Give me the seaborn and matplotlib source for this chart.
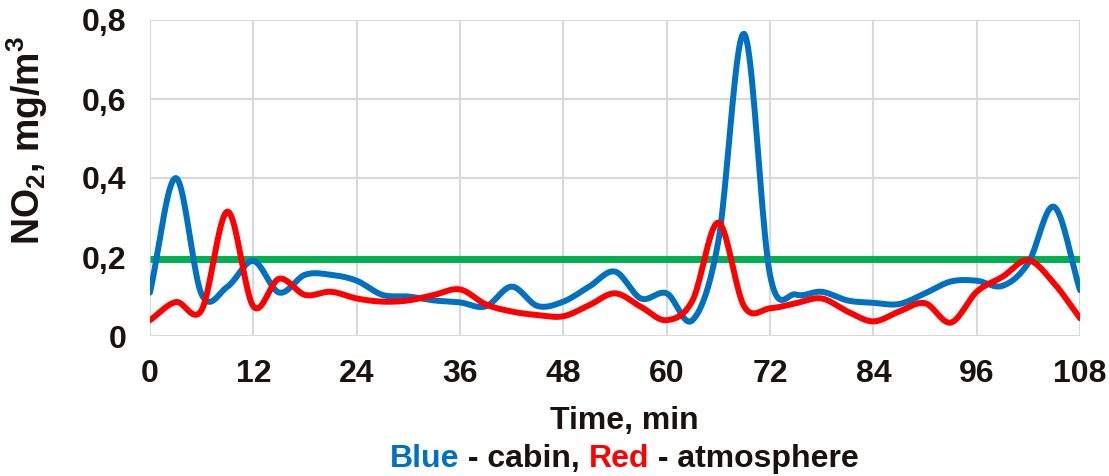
import numpy as np
import pandas as pd
import seaborn as sns
import matplotlib
matplotlib.use("Agg")
import matplotlib.pyplot as plt

# data, read every 3 minutes
time_min = list(range(0, 109, 3))
cabin = [0.11, 0.40, 0.105, 0.125, 0.19, 0.11, 0.155, 0.155, 0.14, 0.104,
         0.10, 0.09, 0.085, 0.075, 0.125, 0.076, 0.087, 0.125, 0.163, 0.095,
         0.108, 0.04, 0.24, 0.765, 0.155, 0.105, 0.112, 0.09, 0.084, 0.081,
         0.108, 0.138, 0.14, 0.127, 0.185, 0.327, 0.116]
atmosphere = [0.04, 0.086, 0.066, 0.315, 0.075, 0.145, 0.104, 0.112, 0.095, 0.087,
              0.09, 0.104, 0.118, 0.08, 0.062, 0.053, 0.05, 0.078, 0.108, 0.074,
              0.04, 0.09, 0.287, 0.075, 0.07, 0.083, 0.095, 0.062, 0.037, 0.062,
              0.083, 0.034, 0.112, 0.15, 0.192, 0.133, 0.045]
limit = 0.195
x_ticks = [0, 12, 24, 36, 48, 60, 72, 84, 96, 108]
y_ticks = [0, 0.2, 0.4, 0.6, 0.8]
y_tick_labels = ["0", "0,2", "0,4", "0,6", "0,8"]

BLUE = "#0070C0"
RED = "#FF0000"
GREEN = "#00B050"
INK = "#1a1111"


def smooth(x, y, n=20):
    # excel-like smoothed line (bezier through the points)
    x = np.asarray(x, float)
    y = np.asarray(y, float)
    px = np.concatenate([[2 * x[0] - x[1]], x, [2 * x[-1] - x[-2]]])
    py = np.concatenate([[2 * y[0] - y[1]], y, [2 * y[-1] - y[-2]]])
    t = np.linspace(0, 1, n, endpoint=False)[:, None]
    xs, ys = [], []
    for i in range(1, len(px) - 2):
        for p, out in ((px, xs), (py, ys)):
            p0, p1, p2, p3 = p[i - 1], p[i], p[i + 1], p[i + 2]
            c1 = p1 + (p2 - p0) / 6
            c2 = p2 - (p3 - p1) / 6
            b = ((1 - t) ** 3 * p1 + 3 * (1 - t) ** 2 * t * c1
                 + 3 * (1 - t) * t ** 2 * c2 + t ** 3 * p2)
            out.append(b.ravel())
    xs.append([x[-1]])
    ys.append([y[-1]])
    return np.concatenate(xs), np.concatenate(ys)


sns.set_theme(style="whitegrid")
plt.rcParams["font.family"] = ["Liberation Sans", "DejaVu Sans"]
plt.rcParams["font.weight"] = "bold"
plt.rcParams["mathtext.fontset"] = "custom"
plt.rcParams["mathtext.rm"] = "Liberation Sans:bold"
plt.rcParams["mathtext.bf"] = "Liberation Sans:bold"
plt.rcParams["mathtext.default"] = "rm"

fig = plt.figure(figsize=(11.09, 4.76), dpi=100)
ax = fig.add_axes([150 / 1109, 1 - 336 / 476, 930 / 1109, 316 / 476])

bx, by = smooth(time_min, cabin)
rx, ry = smooth(time_min, atmosphere)
df_b = pd.DataFrame({"t": bx, "v": by})
df_r = pd.DataFrame({"t": rx, "v": ry})
df_g = pd.DataFrame({"t": [time_min[0], time_min[-1]], "v": [limit, limit]})

sns.lineplot(data=df_g, x="t", y="v", ax=ax, color=GREEN, lw=5, sort=False,
             solid_capstyle="butt", zorder=3)
sns.lineplot(data=df_b, x="t", y="v", ax=ax, color=BLUE, lw=4.3, sort=False, zorder=4)
sns.lineplot(data=df_r, x="t", y="v", ax=ax, color=RED, lw=4.3, sort=False, zorder=5)

ax.set_xlim(0, 108)
ax.set_ylim(0, 0.8)
ax.set_xticks(x_ticks)
ax.set_yticks(y_ticks)
ax.set_yticklabels(y_tick_labels)
ax.grid(True, color="#d9d9d9", lw=1.5)
for s in ax.spines.values():
    s.set_visible(False)
ax.tick_params(axis="both", length=0, labelsize=23, colors=INK)
ax.tick_params(axis="x", pad=16.5)
ax.tick_params(axis="y", pad=17)
for lab in ax.get_xticklabels() + ax.get_yticklabels():
    lab.set_fontweight("bold")

ax.set_xlabel("Time, min", fontsize=23, fontweight="bold", color=INK)
ax.xaxis.set_label_coords(0.51, -0.2215)
ax.set_ylabel(r"NO$_2$, mg/m$^3$", fontsize=27, fontweight="bold", color=INK)
ax.yaxis.set_label_coords(-0.108, 0.62)

# second caption line with coloured words
parts = [("Blue", BLUE), (" - cabin, ", INK), ("Red", RED), (" - atmosphere", INK)]
renderer = fig.canvas.get_renderer()
texts = []
for s, c in parts:
    texts.append(fig.text(0, 1 - 467 / 476, s, color=c, fontsize=23,
                          fontweight="bold", va="baseline", ha="left"))
widths = [t.get_window_extent(renderer).width for t in texts]
x0 = 624 - sum(widths) / 2
for t, w in zip(texts, widths):
    t.set_x(x0 / 1109)
    x0 += w

fig.savefig("out.png", dpi=100)
